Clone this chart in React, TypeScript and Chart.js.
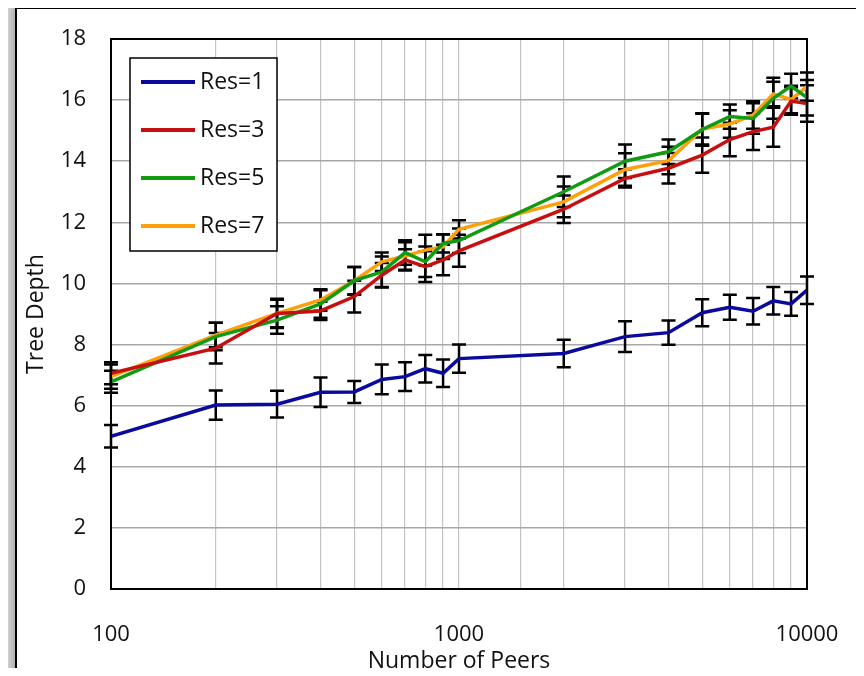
import React, { useEffect, useRef } from 'react';
import { Chart, registerables } from 'chart.js';

Chart.register(...registerables);

const peers = [100, 200, 300, 400, 500, 600, 700, 800, 900, 1000, 2000, 3000, 4000, 5000, 6000, 7000, 8000, 9000, 10000];

const seriesLabels = ['Res=1', 'Res=3', 'Res=5', 'Res=7'];
const seriesColors = ['#0a0a9e', '#c80f0f', '#129a12', '#ffa00a'];

const res1 = [5.0, 6.02, 6.05, 6.44, 6.45, 6.86, 6.95, 7.21, 7.06, 7.54, 7.71, 8.26, 8.39, 9.04, 9.22, 9.09, 9.43, 9.33, 9.78];
const res1Err = [0.37, 0.48, 0.44, 0.48, 0.36, 0.49, 0.47, 0.45, 0.45, 0.46, 0.45, 0.5, 0.4, 0.44, 0.41, 0.43, 0.45, 0.39, 0.45];

const res3 = [7.06, 7.88, 9.02, 9.1, 9.57, 10.27, 10.77, 10.55, 10.77, 11.07, 12.43, 13.44, 13.77, 14.2, 14.71, 14.97, 15.11, 15.97, 15.89];
const res3Err = [0.36, 0.5, 0.48, 0.3, 0.52, 0.4, 0.35, 0.5, 0.5, 0.52, 0.45, 0.3, 0.5, 0.58, 0.55, 0.6, 0.64, 0.45, 0.6];

const res5 = [6.78, 8.26, 8.8, 9.33, 10.09, 10.38, 11.01, 10.71, 11.31, 11.4, 13.0, 14.0, 14.31, 15.04, 15.46, 15.4, 16.06, 16.46, 16.08];
const res5Err = [0.36, 0.45, 0.45, 0.45, 0.45, 0.5, 0.4, 0.5, 0.3, 0.4, 0.5, 0.55, 0.4, 0.53, 0.4, 0.5, 0.67, 0.4, 0.58];

const res7 = [6.95, 8.31, 9.02, 9.46, 10.09, 10.71, 10.9, 11.09, 11.2, 11.77, 12.67, 13.73, 14.02, 15.05, 15.22, 15.51, 16.2, 16.02, 16.44];
const res7Err = [0.4, 0.4, 0.45, 0.35, 0.45, 0.3, 0.45, 0.5, 0.4, 0.3, 0.5, 0.53, 0.45, 0.5, 0.45, 0.45, 0.4, 0.45, 0.46];

const seriesValues = [res1, res3, res5, res7];
const seriesErrors = [res1Err, res3Err, res5Err, res7Err];

const xMajorTicks = [100, 1000, 10000];
const yMin = 0;
const yMax = 18;
const yStep = 2;

const xTitle = 'Number of Peers';
const yTitle = 'Tree Depth';

const FONT = '"Open Sans", sans-serif';

const errorBarPlugin = {
  id: 'errorBars',
  beforeDatasetsDraw(chart: any) {
    const ctx = chart.ctx;
    const xs = chart.scales.x;
    const ys = chart.scales.y;
    ctx.save();
    ctx.strokeStyle = '#000';
    ctx.lineWidth = 2.5;
    ctx.lineCap = 'butt';
    seriesValues.forEach((vals, i) => {
      const errs = seriesErrors[i];
      vals.forEach((v, j) => {
        const px = xs.getPixelForValue(peers[j]);
        const top = ys.getPixelForValue(v + errs[j]);
        const bot = ys.getPixelForValue(v - errs[j]);
        ctx.beginPath();
        ctx.moveTo(px, top);
        ctx.lineTo(px, bot);
        ctx.moveTo(px - 7, top);
        ctx.lineTo(px + 7, top);
        ctx.moveTo(px - 7, bot);
        ctx.lineTo(px + 7, bot);
        ctx.stroke();
      });
    });
    ctx.restore();
  },
};

const frameAndLegendPlugin = {
  id: 'frameLegend',
  afterDatasetsDraw(chart: any) {
    const ctx = chart.ctx;
    const { left, top, right, bottom } = chart.chartArea;
    ctx.save();
    ctx.strokeStyle = '#000';
    ctx.lineWidth = 2;
    ctx.strokeRect(left, top, right - left, bottom - top);

    // legend box
    const bx = left + 19;
    const by = top + 19;
    const bw = 147;
    const bh = 193;
    ctx.fillStyle = '#fff';
    ctx.fillRect(bx, by, bw, bh);
    ctx.lineWidth = 1.5;
    ctx.strokeRect(bx, by, bw, bh);
    ctx.font = `23px ${FONT}`;
    ctx.textBaseline = 'middle';
    ctx.textAlign = 'left';
    chart.data.datasets.forEach((ds: any, i: number) => {
      const cy = by + 24 + i * 48;
      ctx.strokeStyle = ds.borderColor;
      ctx.lineWidth = 4;
      ctx.beginPath();
      ctx.moveTo(bx + 11, cy);
      ctx.lineTo(bx + 65, cy);
      ctx.stroke();
      ctx.fillStyle = '#111';
      ctx.fillText(ds.label, bx + 70, cy);
    });
    ctx.restore();
  },
};

export default function App() {
  const canvasRef = useRef<HTMLCanvasElement | null>(null);

  useEffect(() => {
    if (!canvasRef.current) return;
    const chart = new Chart(canvasRef.current, {
      type: 'line',
      data: {
        datasets: seriesValues.map((vals, i) => ({
          label: seriesLabels[i],
          data: vals.map((v, j) => ({ x: peers[j], y: v })),
          borderColor: seriesColors[i],
          backgroundColor: seriesColors[i],
          borderWidth: 3.5,
          pointRadius: 0,
          tension: 0,
          fill: false,
        })),
      },
      options: {
        animation: false,
        responsive: false,
        devicePixelRatio: 1,
        layout: { padding: { left: 0, right: 57, top: 39, bottom: 0 } },
        plugins: {
          legend: { display: false },
          tooltip: { enabled: false },
        },
        scales: {
          x: {
            type: 'logarithmic',
            min: 100,
            max: 10000,
            afterFit(scale: any) {
              scale.height = 87;
              scale.paddingLeft = 0;
              scale.paddingRight = 0;
            },
            grid: { color: '#c4c4c4', lineWidth: 1.2, drawTicks: false },
            border: { display: false },
            ticks: {
              autoSkip: false,
              maxRotation: 0,
              padding: 33,
              color: '#111',
              font: { family: FONT, size: 22 },
              callback: (v: any) => (xMajorTicks.includes(Number(v)) ? String(v) : ''),
            },
            title: {
              display: true,
              text: xTitle,
              color: '#111',
              font: { family: FONT, size: 23 },
              padding: { top: 0, bottom: 1 },
            },
          },
          y: {
            type: 'linear',
            min: yMin,
            max: yMax,
            afterFit(scale: any) {
              scale.width = 111;
              scale.paddingTop = 0;
              scale.paddingBottom = 0;
            },
            grid: { color: '#a8a8a8', lineWidth: 1.5, drawTicks: false },
            border: { display: false },
            ticks: {
              stepSize: yStep,
              padding: 25,
              color: '#111',
              font: { family: FONT, size: 22 },
            },
            title: {
              display: true,
              text: yTitle,
              color: '#111',
              font: { family: FONT, size: 23 },
              padding: { top: 23, bottom: 0 },
            },
          },
        },
      },
      plugins: [errorBarPlugin, frameAndLegendPlugin],
    } as any);
    return () => chart.destroy();
  }, []);

  return (
    <div style={{ position: 'relative', width: 864, height: 676, margin: -8, overflow: 'hidden', background: '#dadada' }}>
      <div
        style={{
          position: 'absolute',
          left: 15,
          top: 7,
          width: 849,
          height: 720,
          boxSizing: 'border-box',
          borderLeft: '2px solid #000',
          borderTop: '2px solid #000',
          borderRight: '2px solid #000',
          background: '#fff',
          boxShadow: '0 0 10px 2px rgba(0,0,0,0.3)',
        }}
      />
      <canvas ref={canvasRef} width={864} height={676} style={{ position: 'absolute', left: 0, top: 0 }} />
    </div>
  );
}
